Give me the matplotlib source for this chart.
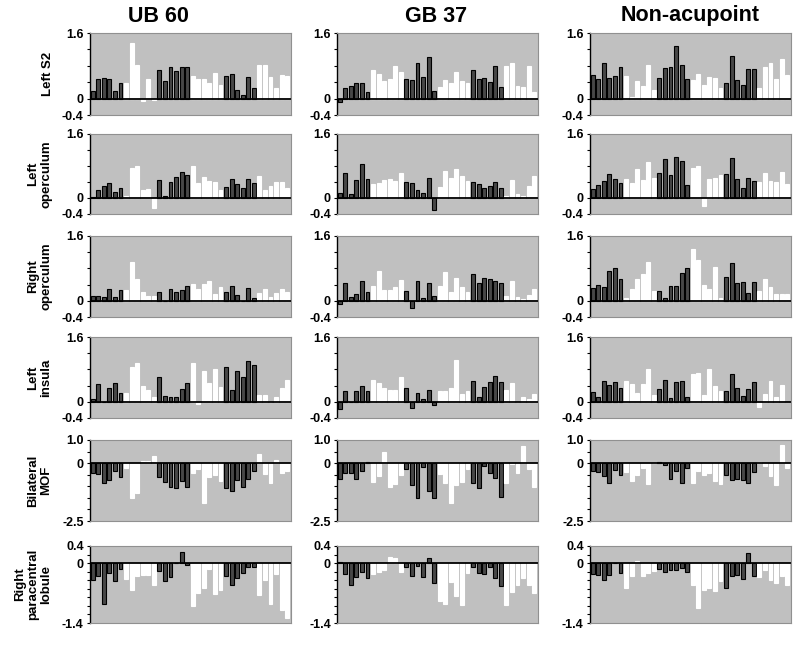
import matplotlib.pyplot as plt
import numpy as np

plt.rcParams['font.family'] = ['Liberation Sans', 'DejaVu Sans']
plt.rcParams['font.weight'] = 'bold'

conditions = ['UB 60', 'GB 37', 'Non-acupoint']
regions = ['Left S2', 'Left\noperculum', 'Right\noperculum', 'Left\ninsula',
           'Bilateral\nMOF', 'Right\nparacentral\nlobule']

# Left S2
ub60_left_s2 = [0.18, 0.47, 0.51, 0.47, 0.18, 0.38, 0.38, 1.35, 0.81, -0.06, 0.47, -0.04,
                0.70, 0.43, 0.76, 0.67, 0.76, 0.78, 0.55, 0.47, 0.47, 0.39, 0.62, 0.33,
                0.55, 0.61, 0.22, 0.08, 0.52, 0.25, 0.81, 0.81, 0.52, 0.27, 0.58, 0.55]
gb37_left_s2 = [-0.08, 0.25, 0.31, 0.38, 0.38, 0.15, 0.70, 0.60, 0.43, 0.48, 0.80, 0.66,
                0.49, 0.45, 0.86, 0.52, 1.02, 0.19, 0.29, 0.45, 0.38, 0.66, 0.43, 0.38,
                0.69, 0.48, 0.50, 0.41, 0.79, 0.29, 0.80, 0.86, 0.31, 0.29, 0.80, 0.16]
non_left_s2 = [0.57, 0.49, 0.86, 0.50, 0.55, 0.76, 0.56, 0.04, 0.42, 0.31, 0.82, 0.22,
               0.50, 0.74, 0.76, 1.29, 0.81, 0.48, 0.46, 0.61, 0.33, 0.52, 0.51, 0.27,
               0.38, 1.04, 0.46, 0.32, 0.71, 0.71, 0.27, 0.78, 0.87, 0.47, 0.96, 0.57]

# Left operculum
ub60_left_operc = [0.02, 0.20, 0.29, 0.38, 0.15, 0.26, 0.06, 0.76, 0.79, 0.19, 0.23, -0.25,
                   0.45, 0.05, 0.41, 0.53, 0.64, 0.57, 0.79, 0.38, 0.53, 0.43, 0.41, 0.20,
                   0.27, 0.48, 0.35, 0.25, 0.48, 0.38, 0.55, 0.19, 0.29, 0.41, 0.41, 0.26]
gb37_left_operc = [0.13, 0.63, 0.11, 0.44, 0.84, 0.48, 0.34, 0.38, 0.46, 0.48, 0.42, 0.63,
                   0.40, 0.38, 0.21, 0.12, 0.50, -0.30, 0.28, 0.68, 0.49, 0.72, 0.56, 0.42,
                   0.41, 0.34, 0.26, 0.31, 0.41, 0.25, 0.05, 0.46, 0.10, 0.06, 0.31, 0.56]
non_left_operc = [0.22, 0.32, 0.42, 0.60, 0.48, 0.37, 0.48, 0.37, 0.73, 0.46, 0.90, 0.51,
                  0.63, 0.98, 0.57, 1.02, 0.93, 0.32, 0.74, 0.80, -0.21, 0.48, 0.51, 0.57,
                  0.61, 0.99, 0.48, 0.24, 0.51, 0.43, 0.40, 0.63, 0.43, 0.40, 0.66, 0.34]

# Right operculum
ub60_right_operc = [0.12, 0.12, 0.09, 0.28, 0.10, 0.26, 0.26, 0.95, 0.55, 0.21, 0.12, 0.12,
                    0.21, 0.0, 0.28, 0.21, 0.26, 0.36, 0.41, 0.29, 0.41, 0.49, 0.16, 0.34,
                    0.22, 0.36, 0.14, 0.0, 0.31, 0.07, 0.20, 0.29, 0.10, 0.20, 0.29, 0.21]
gb37_right_operc = [-0.08, 0.43, 0.09, 0.16, 0.49, 0.21, 0.37, 0.73, 0.27, 0.27, 0.35, 0.51,
                    0.23, -0.17, 0.48, 0.08, 0.45, 0.13, 0.37, 0.70, 0.22, 0.57, 0.35, 0.22,
                    0.67, 0.45, 0.57, 0.55, 0.48, 0.43, 0.13, 0.48, 0.10, 0.05, 0.14, 0.28]
non_right_operc = [0.31, 0.38, 0.33, 0.74, 0.80, 0.53, 0.08, 0.29, 0.55, 0.66, 0.96, 0.25,
                   0.23, 0.07, 0.36, 0.36, 0.69, 0.81, 1.28, 1.00, 0.40, 0.28, 0.83, 0.08,
                   0.60, 0.93, 0.43, 0.47, 0.20, 0.47, 0.24, 0.53, 0.33, 0.17, 0.17, 0.16]

# Left insula
ub60_left_insula = [0.08, 0.44, 0.0, 0.34, 0.46, 0.22, 0.22, 0.87, 0.97, 0.38, 0.30, 0.11,
                    0.61, 0.15, 0.13, 0.11, 0.32, 0.46, 0.95, -0.05, 0.76, 0.46, 0.81, 0.36,
                    0.86, 0.28, 0.76, 0.61, 1.00, 0.92, 0.18, 0.18, 0.0, 0.11, 0.34, 0.55]
gb37_left_insula = [-0.17, 0.26, 0.0, 0.26, 0.40, 0.26, 0.54, 0.47, 0.33, 0.30, 0.30, 0.61,
                    0.35, -0.16, 0.22, 0.08, 0.30, -0.08, 0.27, 0.27, 0.35, 1.02, 0.19, 0.27,
                    0.51, 0.13, 0.37, 0.48, 0.63, 0.48, 0.30, 0.46, 0.0, 0.13, 0.08, 0.19]
non_left_insula = [0.23, 0.12, 0.52, 0.42, 0.48, 0.35, 0.52, 0.45, 0.22, 0.45, 0.81, 0.18,
                   0.32, 0.55, 0.09, 0.50, 0.52, 0.12, 0.68, 0.72, 0.18, 0.82, 0.39, 0.26,
                   0.26, 0.69, 0.35, 0.15, 0.31, 0.48, -0.14, 0.19, 0.52, 0.13, 0.42, 0.0]

# Bilateral MOF
ub60_mof = [-0.41, -0.46, -0.87, -0.74, -0.32, -0.61, -0.22, -1.49, -1.30, 0.10, 0.10, 0.33,
            -0.61, -0.83, -1.03, -1.09, -0.77, -1.03, -0.41, -0.26, -1.71, -0.62, -0.52, -0.77,
            -1.06, -1.20, -0.72, -1.01, -0.70, -0.32, 0.41, -0.46, -0.87, 0.14, -0.41, -0.36]
gb37_mof = [-0.67, -0.43, -0.43, -0.67, -0.34, 0.06, -0.80, -0.56, 0.47, -1.01, -0.88, -0.51,
            -0.24, -0.96, -1.52, -0.17, -1.21, -1.52, -0.46, -0.84, -1.73, -0.96, -0.80, -0.27,
            -0.87, -1.07, -0.13, -0.43, -0.63, -1.45, -0.87, -0.03, -0.43, 0.76, -0.25, -1.01]
non_mof = [-0.36, -0.40, -0.54, -0.86, -0.30, -0.51, -0.40, -0.79, -0.51, -0.23, -0.90, 0.0,
           0.07, -0.06, -0.70, -0.33, -0.86, -0.21, -0.87, -0.33, -0.50, -0.43, -0.79, -0.90,
           -0.50, -0.73, -0.70, -0.73, -0.86, -0.40, 0.03, -0.11, -0.57, -0.93, 0.79, -0.20]

# Right paracentral lobule
ub60_paracentral = [-0.40, -0.30, -0.96, -0.22, -0.42, -0.14, -0.38, -0.63, -0.30, -0.28, -0.28, -0.50,
                    -0.18, -0.42, -0.33, 0.0, 0.27, -0.04, -1.00, -0.70, -0.58, -0.14, -0.72, -0.62,
                    -0.29, -0.51, -0.34, -0.24, -0.09, -0.09, -0.74, -0.40, -0.96, -0.26, -1.10, -1.28]
gb37_paracentral = [0.03, -0.26, -0.52, -0.32, -0.20, -0.35, -0.26, -0.20, -0.16, 0.15, 0.13, -0.20,
                    -0.09, -0.30, -0.07, -0.32, 0.12, -0.46, -0.89, -0.95, -0.44, -0.77, -0.98, -0.24,
                    -0.09, -0.24, -0.26, -0.09, -0.34, -0.54, -0.98, -0.67, -0.52, -0.35, -0.51, -0.71]
non_paracentral = [-0.26, -0.28, -0.39, -0.28, 0.0, -0.23, -0.58, -0.30, 0.04, -0.31, -0.24, -0.18,
                   -0.14, -0.20, -0.17, -0.17, -0.11, -0.20, -0.50, -1.05, -0.63, -0.59, -0.66, -0.42,
                   -0.58, -0.31, -0.27, -0.38, 0.24, -0.30, -0.32, -0.17, -0.39, -0.47, -0.31, -0.50]

table = [
    [ub60_left_s2, gb37_left_s2, non_left_s2],
    [ub60_left_operc, gb37_left_operc, non_left_operc],
    [ub60_right_operc, gb37_right_operc, non_right_operc],
    [ub60_left_insula, gb37_left_insula, non_left_insula],
    [ub60_mof, gb37_mof, non_mof],
    [ub60_paracentral, gb37_paracentral, non_paracentral],
]

ylims = [(-0.4, 1.6)] * 4 + [(-2.5, 1.0), (-1.4, 0.4)]
tick_steps = [0.4] * 4 + [0.5, 0.2]
label_vals = [[1.6, 0, -0.4]] * 4 + [[1.0, 0, -2.5], [0.4, 0, -1.4]]
label_txt = [['1.6', '0', '-0.4']] * 4 + [['1.0', '0', '-2.5'], ['0.4', '0', '-1.4']]

dark = '#474747'
face = (([dark] * 6 + ['white'] * 6) * 3)
edge = (([ 'black'] * 6 + ['white'] * 6) * 3)

W, H = 800, 645
fig = plt.figure(figsize=(8, 6.45), dpi=100)

lefts = [90, 337, 590]
width = 201
tops = [33, 134, 236, 337, 440, 546]
heights = [82, 80, 81, 81, 81, 77]

x = np.arange(36)
for r in range(6):
    for c in range(3):
        ax = fig.add_axes([lefts[c] / W, 1 - (tops[r] + heights[r]) / H,
                           width / W, heights[r] / H])
        ax.set_facecolor('#c0c0c0')
        ax.bar(x, table[r][c], width=0.7, color=face, edgecolor=edge, linewidth=0.8)
        ax.axhline(0, color='black', linewidth=1.3)
        ax.set_xlim(-0.5, 35.7)
        ax.set_ylim(*ylims[r])
        lo, hi = ylims[r]
        st = tick_steps[r]
        ticks = np.round(np.arange(0, hi + 1e-6, st), 2).tolist() + \
            np.round(np.arange(-st, lo - 1e-6, -st), 2).tolist()
        if lo not in ticks:
            ticks.append(lo)
        ax.set_yticks(ticks)
        labs = []
        for t in ticks:
            hit = [abs(t - v) < 1e-6 for v in label_vals[r]]
            labs.append(label_txt[r][hit.index(True)] if any(hit) else '')
        ax.set_yticklabels(labs, fontsize=9, fontweight='bold')
        ax.tick_params(axis='y', direction='out', length=2.5, width=0.8, pad=2)
        ax.set_xticks([])
        for s in ['top', 'right', 'bottom']:
            ax.spines[s].set_color('#909090')
            ax.spines[s].set_linewidth(0.8)
        ax.spines['left'].set_color('black')
        ax.spines['left'].set_linewidth(1.0)

title_x = [158, 436, 690]
for c in range(3):
    fig.text(title_x[c] / W, 1 - 16 / H, conditions[c], ha='center', va='center',
             fontsize=15.5, fontweight='bold')

label_x = [48, 40, 40, 40, 40, 33]
for r in range(6):
    yc = tops[r] + heights[r] / 2
    fig.text(label_x[r] / W, 1 - yc / H, regions[r], rotation=90, ha='center', va='center',
             fontsize=9.5, fontweight='bold', linespacing=1.1)

plt.savefig('out.png', dpi=100)
